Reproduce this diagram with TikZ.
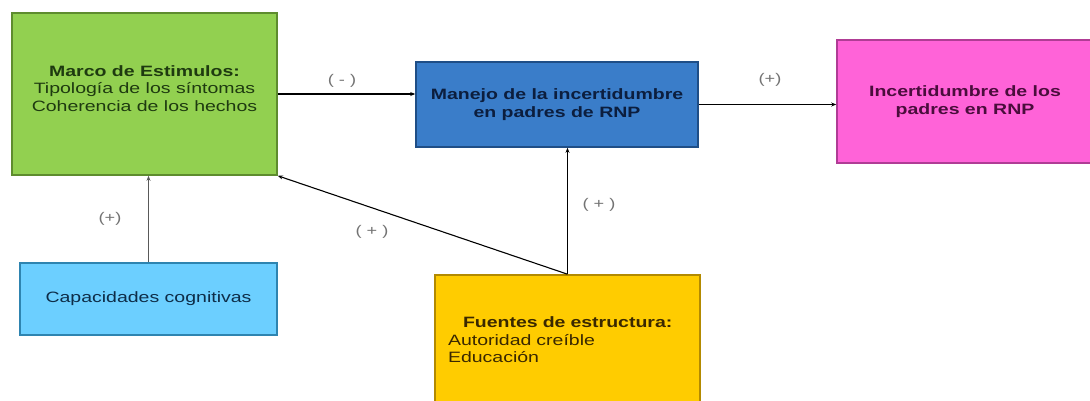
\documentclass[tikz,border=0pt]{standalone}
\usepackage{fontspec}
\setmainfont{Liberation Sans}[FakeStretch=1.3]
\usepackage{xcolor}
\usetikzlibrary{positioning, arrows.meta}

\definecolor{marcofill}{HTML}{92D050}
\definecolor{marcoedge}{HTML}{5E8C2E}
\definecolor{marcotext}{HTML}{1E3A10}
\definecolor{manejofill}{HTML}{3A7DC9}
\definecolor{manejoedge}{HTML}{1F4E86}
\definecolor{manejotext}{HTML}{0C1E3E}
\definecolor{incertfill}{HTML}{FF63D8}
\definecolor{incertedge}{HTML}{B03C95}
\definecolor{incerttext}{HTML}{4A0D3C}
\definecolor{capacfill}{HTML}{6CCFFF}
\definecolor{capacedge}{HTML}{2E84B0}
\definecolor{capactext}{HTML}{0E2D48}
\definecolor{fuentesfill}{HTML}{FFCC00}
\definecolor{fuentesedge}{HTML}{B38A00}
\definecolor{fuentestext}{HTML}{3A2800}

\begin{document}
\begin{tikzpicture}[
  x=1pt, y=-1pt,
  every node/.style={font=\fontsize{15}{17.5}\selectfont},
  box/.style={
    rectangle, line width=1.6pt,
    inner sep=0pt, align=center,
  },
  arr/.style={-{Stealth[length=5pt,width=4pt]}, draw=black, line width=1.1pt},
  sign/.style={font=\fontsize{14}{16}\selectfont, text=black!55},
]
  \useasboundingbox (0,0) rectangle (1090,400);

  \node[box, fill=marcofill, draw=marcoedge, text=marcotext,
        minimum width=265pt, minimum height=162pt] (marco) at (144.5,94)
        {\textbf{Marco de Estimulos:}\\Tipología de los síntomas\\Coherencia de los hechos\\[-6pt]\mbox{}};
  \node[box, fill=manejofill, draw=manejoedge, text=manejotext,
        minimum width=282pt, minimum height=85pt] (manejo) at (557,104.5)
        {\textbf{Manejo de la incertidumbre}\\\textbf{en padres de RNP}};
  \node[box, fill=incertfill, draw=incertedge, text=incerttext,
        minimum width=256pt, minimum height=123pt] (incert) at (965,101.5)
        {\textbf{Incertidumbre de los}\\\textbf{padres en RNP}};
  \node[box, fill=capacfill, draw=capacedge, text=capactext,
        minimum width=257pt, minimum height=72pt] (capac) at (148.5,299)
        {Capacidades cognitivas};
  \node[box, fill=fuentesfill, draw=fuentesedge, text=fuentestext,
        minimum width=265pt, minimum height=130pt, text width=239pt, align=left] (fuentes) at (567.5,340)
        {\hspace*{15pt}\textbf{Fuentes de estructura:}\\Autoridad creíble\\Educación};

  \draw[arr] (marco.east) -- (marco.east -| manejo.west);
  \draw[arr] (manejo.east) -- (manejo.east -| incert.west);
  \draw[arr, draw=black!65, line width=1.8pt] (capac.north) -- (capac.north |- marco.south);
  \draw[arr] (fuentes.north) -- (marco.south east);
  \draw[arr] (fuentes.north) -- (fuentes.north |- manejo.south);

  \node[sign] (minus1) at (342,81) {( - )};
  \node[sign] (plus1) at (770,80) {(+)};
  \node[sign] (plus2) at (110,219) {(+)};
  \node[sign] (plus3) at (372,232) {( + )};
  \node[sign] (plus4) at (599,205) {( + )};
\end{tikzpicture}
\end{document}
